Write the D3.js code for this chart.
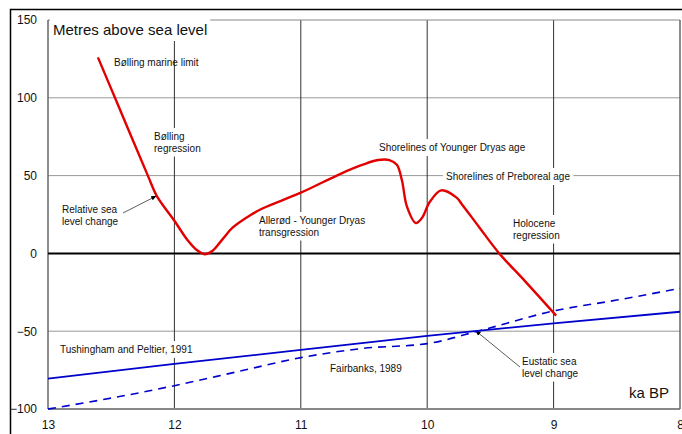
<!DOCTYPE html>
<html>
<head>
<meta charset="utf-8">
<script src="https://cdn.jsdelivr.net/npm/d3@7"></script>
<style>
  body { margin: 0; background: #fff; }
  text { font-family: Arial, "Liberation Sans", sans-serif; fill: #111; }
</style>
</head>
<body>
<svg id="chart" width="682" height="434"></svg>
<script>
// ka BP ticks and metre ticks
const xTicks = [13, 12, 11, 10, 9, 8];
const yTicks = [150, 100, 50, 0, -50, -100];

// relative sea level (red curve)
const rslAge = [12.605, 12.47, 12.21, 12.14, 12.0, 11.9, 11.82, 11.76, 11.70, 11.62, 11.54, 11.40, 11.30, 11.0, 10.69, 10.51, 10.39, 10.30, 10.24, 10.20, 10.16, 10.09, 10.04, 9.98, 9.89, 9.77, 9.72, 9.59, 9.43, 9.23, 8.98];
const rslLevel = [126, 100, 50, 37, 21, 9, 2, -0.5, 1.5, 9, 16.5, 24.5, 29, 39, 51, 57, 60, 60, 57, 47, 30, 19.5, 23, 33, 40.5, 36, 31, 17, 0, -17.5, -40];

// eustatic curves
const tpAge = [13, 12, 11, 10, 9, 8];
const tpLevel = [-80.5, -71, -62, -53, -45, -37.5];
const fbAge = [13, 12.5, 12, 11.5, 11, 10.5, 10, 9.6, 9, 8.5, 8];
const fbLevel = [-100, -93, -85, -76, -67, -61, -58, -50, -37, -30, -22.5];

const svg = d3.select('#chart');

const x = d3.scaleLinear().domain([13, 8]).range([48, 680]);
const y = d3.scaleLinear().domain([-100, 150]).range([409, 20]);

// outer frame
svg.append('path')
    .attr('d', 'M10.5,434 L10.5,9.5 L682,9.5')
    .attr('fill', 'none')
    .attr('stroke', '#000')
    .attr('stroke-width', 1.5);

// horizontal gridlines
svg.append('g').selectAll('line')
    .data([100, 50, -50])
    .enter().append('line')
    .attr('x1', x(13)).attr('x2', x(8))
    .attr('y1', d => y(d)).attr('y2', d => y(d))
    .attr('stroke', '#999')
    .attr('stroke-width', 1);

// vertical gridlines
svg.append('g').selectAll('line')
    .data([12, 11, 10, 9])
    .enter().append('line')
    .attr('x1', d => x(d)).attr('x2', d => x(d))
    .attr('y1', y(150)).attr('y2', y(-100))
    .attr('stroke', '#333')
    .attr('stroke-width', 1);

// plot border
svg.append('line').attr('x1', x(13)).attr('x2', x(8)).attr('y1', y(150)).attr('y2', y(150))
    .attr('stroke', '#888').attr('stroke-width', 1);
svg.append('line').attr('x1', x(13)).attr('x2', x(8)).attr('y1', y(-100)).attr('y2', y(-100))
    .attr('stroke', '#888').attr('stroke-width', 2);
svg.append('line').attr('x1', x(13)).attr('x2', x(13)).attr('y1', y(150)).attr('y2', y(-100))
    .attr('stroke', '#666').attr('stroke-width', 1.5);
svg.append('line').attr('x1', x(8)).attr('x2', x(8)).attr('y1', y(150)).attr('y2', y(-100))
    .attr('stroke', '#666').attr('stroke-width', 1.5);

// zero line
svg.append('line').attr('x1', x(13)).attr('x2', x(8)).attr('y1', y(0)).attr('y2', y(0))
    .attr('stroke', '#000').attr('stroke-width', 2);

// axes (labels only)
const yAxis = svg.append('g')
    .attr('transform', `translate(${x(13)},0)`)
    .call(d3.axisLeft(y).tickValues(yTicks).tickFormat(d3.format('d')).tickSize(0).tickPadding(11));
const xAxis = svg.append('g')
    .attr('transform', `translate(0,${y(-100)})`)
    .call(d3.axisBottom(x).tickValues(xTicks).tickFormat(d3.format('d')).tickSize(0).tickPadding(11));
[yAxis, xAxis].forEach(a => {
    a.select('.domain').remove();
    a.selectAll('text')
        .style('font-family', 'Arial, "Liberation Sans", sans-serif')
        .style('font-size', '12px')
        .attr('fill', '#111');
});

// labels with white background
function label(px, py, lines, size, bg) {
    const g = svg.append('g');
    const t = g.append('text')
        .attr('x', px).attr('y', py)
        .style('font-size', size + 'px');
    lines.forEach((s, i) => {
        t.append('tspan').attr('x', px).attr('dy', i === 0 ? 0 : '1.15em').text(s);
    });
    if (bg) {
        const b = t.node().getBBox();
        g.insert('rect', 'text')
            .attr('x', b.x - 3).attr('y', b.y - 3)
            .attr('width', b.width + 6).attr('height', b.height + 6)
            .attr('fill', '#fff');
    }
}

label(53, 35, ['Metres above sea level'], 15, true);
label(114, 66, ['Bølling marine limit'], 10, false);
label(154, 140, ['Bølling', 'regression'], 10, true);
label(62, 213, ['Relative sea', 'level change'], 10, true);
label(259, 224, ['Allerød - Younger Dryas', 'transgression'], 10, true);
label(379, 151, ['Shorelines of Younger Dryas age'], 10, true);
label(446, 180, ['Shorelines of Preboreal age'], 10, true);
label(513, 227, ['Holocene', 'regression'], 10, true);
label(60, 353, ['Tushingham and Peltier, 1991'], 10, true);
label(330, 372, ['Fairbanks, 1989'], 10, true);
label(522, 365, ['Eustatic sea', 'level change'], 10, true);
label(629, 398, ['ka BP'], 15, true);

// arrows
svg.append('defs').append('marker')
    .attr('id', 'arrow')
    .attr('viewBox', '0 0 10 10')
    .attr('refX', 10).attr('refY', 5)
    .attr('markerWidth', 7).attr('markerHeight', 7)
    .attr('orient', 'auto')
    .append('path')
    .attr('d', 'M0,1 L10,5 L0,9 Z')
    .attr('fill', '#000');

svg.append('line')
    .attr('x1', 123).attr('y1', 213)
    .attr('x2', x(12.14)).attr('y2', y(37))
    .attr('stroke', '#333').attr('stroke-width', 0.8)
    .attr('marker-end', 'url(#arrow)');
svg.append('line')
    .attr('x1', 520).attr('y1', 367)
    .attr('x2', x(9.62)).attr('y2', y(-49.5))
    .attr('stroke', '#333').attr('stroke-width', 0.8)
    .attr('marker-end', 'url(#arrow)');

// curves
const line = d3.line()
    .x(d => x(d[0]))
    .y(d => y(d[1]));

svg.append('path')
    .datum(tpAge.map((a, i) => [a, tpLevel[i]]))
    .attr('d', line)
    .attr('fill', 'none')
    .attr('stroke', '#0000cc')
    .attr('stroke-width', 1.8);

svg.append('path')
    .datum(fbAge.map((a, i) => [a, fbLevel[i]]))
    .attr('d', line.curve(d3.curveMonotoneX))
    .attr('fill', 'none')
    .attr('stroke', '#0000cc')
    .attr('stroke-width', 1.6)
    .attr('stroke-dasharray', '8,6');

svg.append('path')
    .datum(rslAge.map((a, i) => [a, rslLevel[i]]))
    .attr('d', line.curve(d3.curveCatmullRom.alpha(0.5)))
    .attr('fill', 'none')
    .attr('stroke', '#e30000')
    .attr('stroke-width', 2.4);
</script>
</body>
</html>
